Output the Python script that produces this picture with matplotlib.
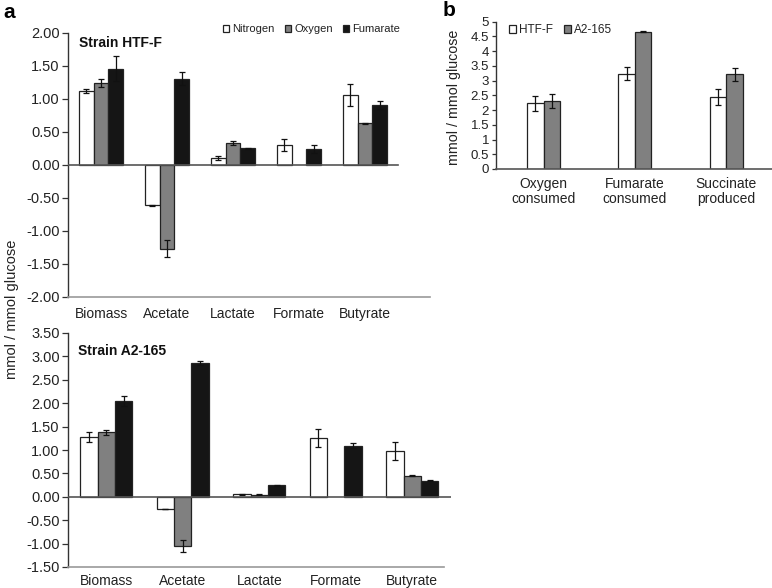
import matplotlib.pyplot as plt
import numpy as np

plt.rcParams['font.family'] = ['Liberation Sans', 'DejaVu Sans']

# panel a data (mmol / mmol glucose)
categories = ['Biomass', 'Acetate', 'Lactate', 'Formate', 'Butyrate']
conditions = ['Nitrogen', 'Oxygen', 'Fumarate']

htf_nitrogen = [1.12, -0.61, 0.10, 0.30, 1.06]
htf_nitrogen_err = [0.03, 0.01, 0.03, 0.09, 0.17]
htf_oxygen = [1.24, -1.27, 0.33, np.nan, 0.63]
htf_oxygen_err = [0.06, 0.13, 0.03, np.nan, 0.01]
htf_fumarate = [1.46, 1.31, 0.25, 0.24, 0.91]
htf_fumarate_err = [0.19, 0.10, 0.01, 0.06, 0.06]

a2_nitrogen = [1.28, -0.26, 0.05, 1.25, 0.98]
a2_nitrogen_err = [0.10, 0.01, 0.01, 0.19, 0.19]
a2_oxygen = [1.38, -1.05, 0.04, np.nan, 0.45]
a2_oxygen_err = [0.05, 0.13, 0.01, np.nan, 0.01]
a2_fumarate = [2.05, 2.86, 0.25, 1.09, 0.34]
a2_fumarate_err = [0.11, 0.04, 0.01, 0.05, 0.01]

# panel b data
b_categories = ['Oxygen\nconsumed', 'Fumarate\nconsumed', 'Succinate\nproduced']
b_strains = ['HTF-F', 'A2-165']
b_htf = [2.23, 3.24, 2.45]
b_htf_err = [0.25, 0.22, 0.28]
b_a2 = [2.31, 4.66, 3.22]
b_a2_err = [0.25, 0.01, 0.22]

COLORS = ['white', '#808080', '#151515']
EDGE = '#222222'
W, H = 772., 588.


def fig_rect(x0, y0, x1, y1):
  # pixel box -> figure fraction rect
  return [x0 / W, 1 - y1 / H, (x1 - x0) / W, (y1 - y0) / H]


def draw_bars(ax, series, errors, width):
  x = np.arange(len(series[0]))
  n = len(series)
  handles = []
  for i in range(n):
    xs = x + (i - (n - 1) / 2.) * width
    b = ax.bar(xs, series[i], width, color=COLORS[i],
               edgecolor=EDGE, linewidth=0.9, zorder=2)
    ax.errorbar(xs, series[i], yerr=errors[i], fmt='none', ecolor='#111111',
                elinewidth=0.9, capsize=2.5, capthick=0.9, zorder=3)
    handles.append(b)
  return handles


def style_axis(ax):
  for s in ['top', 'right']:
    ax.spines[s].set_visible(False)
  ax.spines['left'].set_color('#333333')
  ax.spines['left'].set_linewidth(1.0)
  ax.tick_params(axis='y', direction='out', length=4, width=0.9,
                 color='#333333', labelsize=10.5, labelcolor='#222222', pad=2)
  ax.tick_params(axis='x', length=0, labelsize=10, labelcolor='#222222')


fig = plt.figure(figsize=(7.72, 5.88), dpi=100)

# --- panel a, top
ax1 = fig.add_axes(fig_rect(68, 33, 430, 297))
handles = draw_bars(ax1, [htf_nitrogen, htf_oxygen, htf_fumarate],
                    [htf_nitrogen_err, htf_oxygen_err, htf_fumarate_err], 0.227)
ax1.set_xlim(-0.5, -0.5 + (430 - 68) / 66.)
ax1.set_ylim(-2, 2)
ax1.plot([-0.5, 4.5], [0, 0], color='#555555', lw=1.2, zorder=4)
yt = np.arange(-2, 2.01, 0.5)
ax1.set_yticks(yt)
ax1.set_yticklabels(['%.2f' % v for v in yt])
ax1.set_xticks(range(len(categories)))
ax1.set_xticklabels(categories)
style_axis(ax1)
ax1.spines['bottom'].set_color('#999999')
ax1.spines['bottom'].set_linewidth(1.2)
ax1.tick_params(axis='x', pad=7)
ax1.legend(handles, conditions, ncol=3, frameon=False, fontsize=8,
           handlelength=0.6, handleheight=0.6, handletextpad=0.25,
           columnspacing=0.9, borderpad=0, borderaxespad=0,
           loc='upper right', bbox_to_anchor=(400 / W, 1 - 24 / H),
           bbox_transform=fig.transFigure, labelcolor='#222222')

# --- panel a, bottom
ax2 = fig.add_axes(fig_rect(68, 333, 450.5, 567))
draw_bars(ax2, [a2_nitrogen, a2_oxygen, a2_fumarate],
          [a2_nitrogen_err, a2_oxygen_err, a2_fumarate_err], 0.227)
ax2.set_xlim(-0.5, 4.5)
ax2.set_ylim(-1.5, 3.5)
ax2.axhline(0, color='#555555', lw=1.2, zorder=4)
yt = np.arange(-1.5, 3.51, 0.5)
ax2.set_yticks(yt)
ax2.set_yticklabels(['%.2f' % v for v in yt])
ax2.set_xticks(range(len(categories)))
ax2.set_xticklabels(categories)
style_axis(ax2)
ax2.spines['bottom'].set_color('#999999')
ax2.spines['bottom'].set_linewidth(1.2)
ax2.spines['bottom'].set_bounds(-0.5, 4.42)
ax2.tick_params(axis='x', pad=5)

# --- panel b
ax3 = fig.add_axes(fig_rect(496, 21.7, 772, 169))
hb = draw_bars(ax3, [b_htf, b_a2], [b_htf_err, b_a2_err], 0.18)
ax3.set_xlim(-0.52, 2.5)
ax3.set_ylim(0, 5)
yt = np.arange(0, 5.01, 0.5)
ax3.set_yticks(yt)
ax3.set_yticklabels(['%g' % v for v in yt])
ax3.set_xticks(range(len(b_categories)))
ax3.set_xticklabels(b_categories, linespacing=1.05)
style_axis(ax3)
ax3.tick_params(axis='y', labelsize=9.5, length=3)
ax3.spines['bottom'].set_color('#555555')
ax3.spines['bottom'].set_linewidth(1.2)
ax3.tick_params(axis='x', pad=6)
ax3.legend(hb, b_strains, ncol=2, frameon=False, fontsize=8.5,
           handlelength=0.6, handleheight=0.6, handletextpad=0.25,
           columnspacing=0.9, borderpad=0, borderaxespad=0,
           loc='upper left', bbox_to_anchor=(509 / W, 1 - 24 / H),
           bbox_transform=fig.transFigure, labelcolor='#222222')

# labels
fig.text(79 / W, 1 - 43 / H, 'Strain HTF-F', fontsize=10, weight='bold',
         va='center', color='#111111')
fig.text(78 / W, 1 - 351 / H, 'Strain A2-165', fontsize=10, weight='bold',
         va='center', color='#111111')
fig.text(3 / W, 1 - 12 / H, 'a', fontsize=15, weight='bold', va='center')
fig.text(443 / W, 1 - 11 / H, 'b', fontsize=15, weight='bold', va='center')
fig.text(12 / W, 1 - 309 / H, 'mmol / mmol glucose', rotation=90,
         va='center', ha='center', fontsize=10.5, color='#222222')
fig.text(454 / W, 1 - 97 / H, 'mmol / mmol glucose', rotation=90,
         va='center', ha='center', fontsize=10.3, color='#222222')

fig.savefig('out.png', dpi=100)
